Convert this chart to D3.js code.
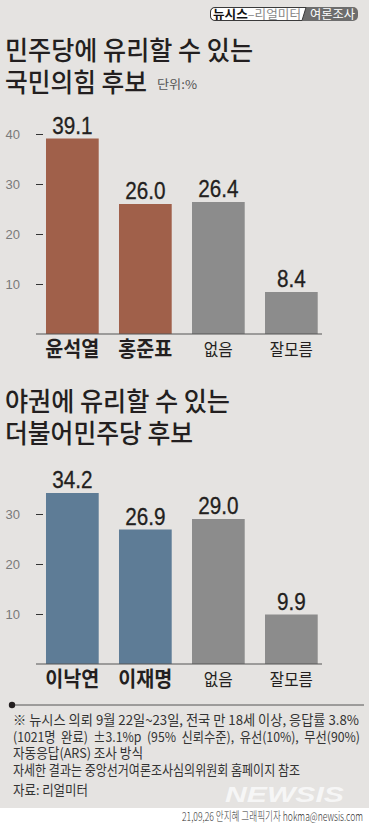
<!DOCTYPE html>
<html>
<head>
<meta charset="utf-8">
<style>
  body { margin: 0; background: #e5e3e1; }
  svg { display: block; }
</style>
</head>
<body>
<svg width="369" height="827"></svg>
<script src="https://d3js.org/d3.v7.min.js"></script>
<script>

// data
var cats1 = ["윤석열", "홍준표", "없음", "잘모름"],
    vals1 = [39.1, 26.0, 26.4, 8.4],
    ticks1 = [10, 20, 30, 40];
var cats2 = ["이낙연", "이재명", "없음", "잘모름"],
    vals2 = [34.2, 26.9, 29.0, 9.9],
    ticks2 = [10, 20, 30];
var titles1 = ["민주당에 유리할 수 있는", "국민의힘 후보"],
    titles2 = ["야권에 유리할 수 있는", "더불어민주당 후보"];
var notes = [
  "※ 뉴시스 의뢰 9월 22일~23일, 전국 만 18세 이상, 응답률 3.8%",
  "(1021명  완료)  ±3.1%p  (95%  신뢰수준),  유선(10%),  무선(90%)",
  "자동응답(ARS) 조사 방식",
  "자세한 결과는 중앙선거여론조사심의위원회 홈페이지 참조"
];

var svg = d3.select("svg"),
    width = +svg.attr("width"),
    height = +svg.attr("height");

var KR = "'Noto Sans CJK KR', sans-serif",
    NUM = "'Liberation Sans Narrow', 'Liberation Sans', sans-serif";

svg.append("rect").attr("width", width).attr("height", height).attr("fill", "#e5e3e1");

// header tag
var tag = svg.append("g");
tag.append("rect").attr("x", 210).attr("y", 7).attr("width", 148).attr("height", 14)
    .attr("rx", 5).attr("fill", "#6d6d6d");
tag.append("path").attr("d", "M215,7.5 H306 L302,20.5 H215 A4.5,4.5 0 0 1 210.5,16 V12 A4.5,4.5 0 0 1 215,7.5 Z")
    .attr("fill", "#fff").attr("stroke", "#3a3a3a").attr("stroke-width", 1);
var tt = tag.append("text").attr("x", 213).attr("y", 18.5)
    .style("font-family", KR).style("font-size", "12.5px")
    .attr("textLength", 88).attr("lengthAdjust", "spacingAndGlyphs");
tt.append("tspan").attr("font-weight", 700).attr("fill", "#111").text("뉴시스");
tt.append("tspan").attr("fill", "#888").text("–리얼미터");
tag.append("text").attr("x", 310).attr("y", 18.5).attr("fill", "#fff")
    .style("font-family", KR).style("font-size", "12.5px")
    .attr("textLength", 45).attr("lengthAdjust", "spacingAndGlyphs")
    .text("여론조사");

function title(lines, y0, widths) {
  lines.forEach(function(t, i) {
    svg.append("text").attr("x", 5).attr("y", y0 + i * 32)
      .attr("fill", "#231f20")
      .style("font-family", KR).style("font-size", "26px").style("font-weight", 500)
      .attr("textLength", widths[i]).attr("lengthAdjust", "spacingAndGlyphs")
      .text(t);
  });
}

title(titles1, 60, [248, 142]);
svg.append("text").attr("x", 157).attr("y", 89).attr("fill", "#555")
  .style("font-family", KR).style("font-size", "12px")
  .attr("textLength", 40).attr("lengthAdjust", "spacingAndGlyphs")
  .text("단위:%");
title(titles2, 411, [225, 188]);

function chart(cats, vals, ticks, base, colour) {
  var y = d3.scaleLinear().domain([0, 10]).range([base, base - 50]);
  var x = d3.scaleBand().domain(cats).range([25.7, 338]).padding(0.278);
  var g = svg.append("g");

  var ax = g.append("g").attr("transform", "translate(43,0)")
    .call(d3.axisLeft(y).tickValues(ticks).tickSize(7).tickPadding(16));
  ax.select(".domain").remove();
  ax.selectAll("line").attr("stroke", "#333");
  ax.selectAll("text").attr("fill", "#7a7a7a")
    .style("font-family", "'Liberation Sans', sans-serif").style("font-size", "13px");

  g.selectAll(".bar").data(vals).join("rect")
    .attr("class", "bar")
    .attr("x", function(d, i) { return x(cats[i]); })
    .attr("y", function(d) { return y(d); })
    .attr("width", x.bandwidth())
    .attr("height", function(d) { return y(0) - y(d); })
    .attr("fill", function(d, i) { return i < 2 ? colour : "#8c8c8c"; });

  g.append("line").attr("x1", 36).attr("x2", 322).attr("y1", y(0)).attr("y2", y(0))
    .attr("stroke", "#555").attr("stroke-width", 1.2);

  g.selectAll(".val").data(vals).join("text")
    .attr("class", "val")
    .attr("transform", function(d, i) {
      return "translate(" + (x(cats[i]) + x.bandwidth() / 2) + "," + (y(d) - 5) + ") scale(0.9,1)";
    })
    .attr("text-anchor", "middle")
    .attr("fill", "#231f20").attr("stroke", "#231f20").attr("stroke-width", 0.3)
    .style("font-family", NUM).style("font-size", "23px")
    .text(function(d) { return d3.format(".1f")(d); });

  g.selectAll(".cat").data(cats).join("text")
    .attr("class", "cat")
    .attr("x", function(d) { return x(d) + x.bandwidth() / 2; })
    .attr("y", base + 22)
    .attr("text-anchor", "middle")
    .attr("fill", "#231f20")
    .style("font-family", KR)
    .style("font-size", function(d, i) { return i < 2 ? "21px" : "17px"; })
    .style("font-weight", function(d, i) { return i < 2 ? 700 : 400; })
    .attr("textLength", function(d, i) { return i < 2 ? 54 : (i == 2 ? 29 : 43); })
    .attr("lengthAdjust", "spacingAndGlyphs")
    .text(function(d) { return d; });
}

chart(cats1, vals1, ticks1, 334, "#a0604a");
chart(cats2, vals2, ticks2, 664, "#5e7c96");

// footnote
svg.append("line").attr("x1", 12).attr("x2", 364).attr("y1", 705).attr("y2", 705)
  .attr("stroke", "#555").attr("stroke-width", 1);
svg.append("circle").attr("cx", 12).attr("cy", 705).attr("r", 3.2).attr("fill", "#231f20");

var noteY = [725, 742, 758, 775], noteW = [346, 347, 130, 287];
notes.forEach(function(t, i) {
  svg.append("text").attr("x", 13).attr("y", noteY[i])
    .attr("fill", "#333")
    .style("font-family", KR).style("font-size", "13.5px")
    .attr("textLength", noteW[i]).attr("lengthAdjust", "spacingAndGlyphs")
    .attr("xml:space", "preserve")
    .text(t);
});
svg.append("text").attr("x", 13).attr("y", 795).attr("fill", "#333")
  .style("font-family", KR).style("font-size", "13.5px")
  .attr("textLength", 75).attr("lengthAdjust", "spacingAndGlyphs")
  .text("자료: 리얼미터");

// watermark
svg.append("text").attr("x", 225).attr("y", 802)
  .attr("fill", "#fafafa").attr("opacity", 0.85)
  .style("font-family", "'Liberation Sans', sans-serif").style("font-size", "22px")
  .style("font-weight", 700).style("font-style", "italic")
  .attr("textLength", 119).attr("lengthAdjust", "spacingAndGlyphs")
  .text("NEWSIS");

// credit strip
svg.append("rect").attr("y", 808).attr("width", width).attr("height", height - 808).attr("fill", "#fff");
svg.append("text").attr("x", 182).attr("y", 821).attr("fill", "#333")
  .style("font-family", KR).style("font-size", "12px").style("font-weight", 300)
  .attr("textLength", 181).attr("lengthAdjust", "spacingAndGlyphs")
  .text("21,09,26 안지혜 그래픽기자 hokma@newsis.com");

</script>
</body>
</html>
